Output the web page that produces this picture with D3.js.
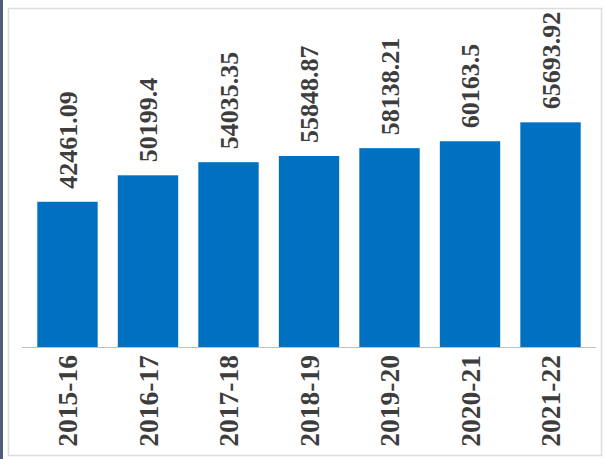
<!DOCTYPE html>
<html>
<head>
<meta charset="utf-8">
<script src="https://cdn.jsdelivr.net/npm/d3@7"></script>
<style>
  html, body { margin: 0; padding: 0; background: #ffffff; }
  svg { display: block; }
</style>
</head>
<body>
<div id="chart"></div>
<script>
const categories = ["2015-16", "2016-17", "2017-18", "2018-19", "2019-20", "2020-21", "2021-22"];
const values = [42461.09, 50199.4, 54035.35, 55848.87, 58138.21, 60163.5, 65693.92];
const valueLabels = ["42461.09", "50199.4", "54035.35", "55848.87", "58138.21", "60163.5", "65693.92"];

const W = 606, H = 459;
const svg = d3.select("#chart").append("svg").attr("width", W).attr("height", H);

// left dark strip and light frame
svg.append("rect").attr("x", 0).attr("y", 0).attr("width", 3).attr("height", H).attr("fill", "#4b6077");
svg.append("rect").attr("x", 8.5).attr("y", 8.5).attr("width", 593).attr("height", 447)
  .attr("fill", "none").attr("stroke", "#dcdcdc").attr("stroke-width", 1.5);

const baseline = 347;
const x = d3.scaleBand().domain(categories).range([22, 596]).paddingInner(0.25).paddingOuter(0.19);
const y = d3.scaleLinear().domain([0, 70000]).range([baseline, baseline - 0.00342 * 70000]);

const font = "'Liberation Serif', 'Times New Roman', serif";

svg.selectAll("rect.bar").data(values).enter().append("rect")
  .attr("class", "bar")
  .attr("x", (d, i) => x(categories[i]))
  .attr("y", d => y(d))
  .attr("width", x.bandwidth())
  .attr("height", d => y(0) - y(d))
  .attr("fill", "#0070C0");

// x axis
const xAxis = svg.append("g").attr("transform", `translate(0,${baseline})`)
  .call(d3.axisBottom(x).tickSize(0).tickPadding(0));
xAxis.select(".domain").attr("stroke", "#bfbfbf").attr("stroke-width", 1)
  .attr("d", "M22,0.5H596");
xAxis.selectAll(".tick text")
  .attr("transform", "rotate(-90)")
  .attr("x", -8).attr("y", 0).attr("dy", "0.35em")
  .attr("text-anchor", "end")
  .attr("font-family", font).attr("font-weight", "bold").attr("font-size", 27.5)
  .attr("fill", "#3d3d3d");

// value labels
svg.selectAll("text.val").data(values).enter().append("text")
  .attr("class", "val")
  .attr("transform", (d, i) => `translate(${x(categories[i]) + x.bandwidth() / 2},${y(d) - 13}) rotate(-90)`)
  .attr("dy", "0.35em")
  .attr("text-anchor", "start")
  .attr("font-family", font).attr("font-weight", "bold").attr("font-size", 26)
  .attr("fill", "#3d3d3d")
  .text((d, i) => valueLabels[i]);
</script>
</body>
</html>
